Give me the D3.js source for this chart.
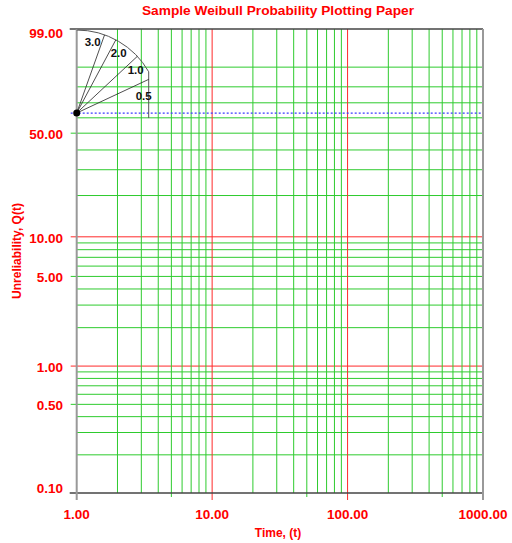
<!DOCTYPE html>
<html>
<head>
<meta charset="utf-8">
<script src="https://cdn.jsdelivr.net/npm/d3@7"></script>
<style>
  body { margin: 0; background: #fff; }
  text { font-family: Arial, "Liberation Sans", sans-serif; font-weight: bold; }
</style>
</head>
<body>
<div class="paper"></div>
<script>
// time axis (log)
const timeMajor = [1, 10, 100, 1000];
const timeMinor = [2, 3, 4, 5, 6, 7, 8, 9, 20, 30, 40, 50, 60, 70, 80, 90, 200, 300, 400, 500, 600, 700, 800, 900];
const timeLabels = ["1.00", "10.00", "100.00", "1000.00"];

// unreliability axis (percent, weibull scale)
const qGrid = [0.2, 0.3, 0.4, 0.5, 0.6, 0.7, 0.8, 0.9, 1, 2, 3, 4, 5, 6, 7, 8, 9, 10, 20, 30, 40, 50, 60, 70, 80, 90];
const qTicks = [99, 50, 10, 5, 1, 0.5, 0.1];
const qTickLabels = ["99.00", "50.00", "10.00", "5.00", "1.00", "0.50", "0.10"];
const qRed = [1, 10];

// beta slope indicator
const betas = [0.5, 1, 2, 3];
const betaLabels = ["0.5", "1.0", "2.0", "3.0"];
const etaLevel = 63.2;

const width = 512, height = 543;
const green = "#2ecb2e", red = "#ff2a2a", textRed = "#ff0000";

const weib = q => Math.log(-Math.log(1 - q / 100));

const x = d3.scaleLog().domain([1, 1000]).range([76.7, 483]);
const yLin = d3.scaleLinear().domain([weib(0.1), weib(99)]).range([493, 29]);
const y = q => yLin(weib(q));

const svg = d3.select(".paper")
    .append("svg")
    .attr("width", width)
    .attr("height", height);

const yTop = y(99), yBot = y(0.1), xLeft = x(1), xRight = x(1000);

// horizontal grid
svg.append("g").selectAll("line")
    .data(qGrid)
    .enter().append("line")
    .attr("x1", xLeft).attr("x2", xRight)
    .attr("y1", d => y(d)).attr("y2", d => y(d))
    .attr("stroke", d => qRed.includes(d) ? red : green)
    .attr("stroke-width", 1);

// vertical grid
svg.append("g").selectAll("line")
    .data(timeMinor)
    .enter().append("line")
    .attr("x1", d => x(d)).attr("x2", d => x(d))
    .attr("y1", yTop).attr("y2", d => String(d)[0] === "5" ? yBot + 4 : yBot)
    .attr("stroke", green)
    .attr("stroke-width", 1);

svg.append("g").selectAll("line")
    .data(timeMajor.slice(1, 3))
    .enter().append("line")
    .attr("x1", d => x(d)).attr("x2", d => x(d))
    .attr("y1", yTop).attr("y2", yBot + 7)
    .attr("stroke", red)
    .attr("stroke-width", 1);

// left ticks for labelled values
svg.append("g").selectAll("line")
    .data(qTicks.slice(1, -1))
    .enter().append("line")
    .attr("x1", xLeft - 6).attr("x2", xLeft)
    .attr("y1", d => y(d)).attr("y2", d => y(d))
    .attr("stroke", d => qRed.includes(d) ? red : green)
    .attr("stroke-width", 1);

// eta line
svg.append("line")
    .attr("x1", xLeft - 6).attr("x2", xRight)
    .attr("y1", y(etaLevel)).attr("y2", y(etaLevel))
    .attr("stroke", "#3b3bff")
    .attr("stroke-dasharray", "2,2")
    .attr("stroke-width", 1.2);

// frame
svg.append("line").attr("x1", xLeft - 7).attr("x2", xRight).attr("y1", yTop).attr("y2", yTop)
    .attr("stroke", "#444").attr("stroke-width", 1.5);
svg.append("line").attr("x1", xLeft - 7).attr("x2", xRight).attr("y1", yBot).attr("y2", yBot)
    .attr("stroke", "#444").attr("stroke-width", 1.5);
svg.append("line").attr("x1", xLeft).attr("x2", xLeft).attr("y1", yTop).attr("y2", yBot + 7)
    .attr("stroke", "#999").attr("stroke-width", 2);
svg.append("line").attr("x1", xRight).attr("x2", xRight).attr("y1", yTop).attr("y2", yBot + 7)
    .attr("stroke", "#999").attr("stroke-width", 2);

// y labels
svg.append("g").selectAll("text")
    .data(qTicks)
    .enter().append("text")
    .attr("x", 63)
    .attr("y", d => Math.min(Math.max(y(d) + 6, yTop + 9), yBot))
    .attr("text-anchor", "end")
    .attr("fill", textRed)
    .style("font-size", "13.5px")
    .text((d, i) => qTickLabels[i]);

// x labels
svg.append("g").selectAll("text")
    .data(timeMajor)
    .enter().append("text")
    .attr("x", d => x(d))
    .attr("y", 519)
    .attr("text-anchor", "middle")
    .attr("fill", textRed)
    .style("font-size", "13.5px")
    .text((d, i) => timeLabels[i]);

// titles
svg.append("text")
    .attr("x", 278).attr("y", 15)
    .attr("text-anchor", "middle")
    .attr("fill", textRed)
    .style("font-size", "13.7px")
    .text("Sample Weibull Probability Plotting Paper");

svg.append("text")
    .attr("x", 278).attr("y", 537)
    .attr("text-anchor", "middle")
    .attr("fill", textRed)
    .style("font-size", "12px")
    .text("Time, (t)");

svg.append("text")
    .attr("transform", "translate(21,251) rotate(-90)")
    .attr("text-anchor", "middle")
    .attr("fill", textRed)
    .style("font-size", "12px")
    .text("Unreliability, Q(t)");

// beta indicator
const ox = xLeft, oy = y(etaLevel);
const r = 83;
const pxPerLnT = x(Math.E) - x(1);
const pxPerW = yLin(0) - yLin(1);
const ang = b => Math.atan(b * pxPerW / pxPerLnT);

const g = svg.append("g");
const cutX = ox + 72;
const cutA = Math.acos(72 / r);
const arc = d3.path();
arc.moveTo(ox, oy - r);
arc.arc(ox, oy, r, -Math.PI / 2, -cutA);
arc.lineTo(cutX, oy + 5);
g.append("path")
    .attr("d", arc.toString())
    .attr("fill", "none")
    .attr("stroke", "#555")
    .attr("stroke-width", 1);

g.selectAll("line")
    .data(betas)
    .enter().append("line")
    .attr("x1", ox).attr("y1", oy)
    .attr("x2", d => ox + Math.min(r * Math.cos(ang(d)), 72))
    .attr("y2", d => oy - Math.min(r * Math.cos(ang(d)), 72) * Math.tan(ang(d)))
    .attr("stroke", "#222")
    .attr("stroke-width", 0.8);

const nudge = b => (b === 3 ? 7 : b === 0.5 ? -11 : -7) * Math.PI / 180;
g.selectAll("text")
    .data(betas)
    .enter().append("text")
    .attr("x", d => ox + (d === 0.5 ? 69 : 73) * Math.cos(ang(d) + nudge(d)))
    .attr("y", d => oy - (d === 0.5 ? 69 : 73) * Math.sin(ang(d) + nudge(d)))
    .attr("text-anchor", "middle")
    .attr("dominant-baseline", "central")
    .attr("fill", "#111")
    .style("font-size", "11.5px")
    .text((d, i) => betaLabels[i]);

g.append("circle")
    .attr("cx", ox).attr("cy", oy)
    .attr("r", 3.5)
    .attr("fill", "#000");
</script>
</body>
</html>
